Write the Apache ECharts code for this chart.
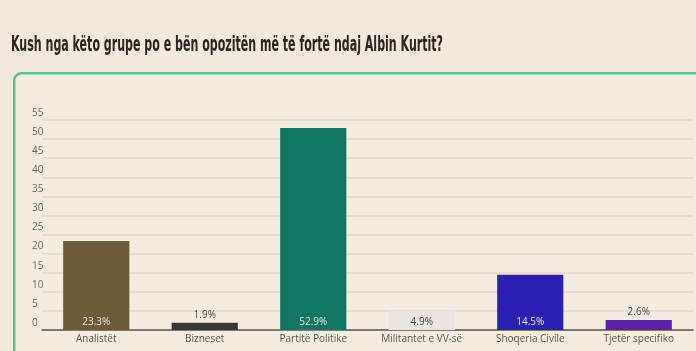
<!DOCTYPE html>
<html>
<head>
    <meta charset="utf-8"/>
    <title>Kush nga këto grupe</title>
    <script src="https://cdn.jsdelivr.net/npm/echarts@6/dist/echarts.min.js"></script>
    <style>
        html, body { margin: 0; padding: 0; background: #f3e8dc; }
    </style>
</head>
<body>
    <div id="chart" style="width: 696px; height: 351px;"></div>
<script type="text/javascript">
    // te dhenat
    var titleText = 'Kush nga këto grupe po e bën opozitën më të fortë ndaj Albin Kurtit?';
    var categories = ['Analistët', 'Bizneset', 'Partitë Politike', 'Militantet e VV-së', 'Shoqeria Civile', 'Tjetër specifiko'];
    var values = [23.3, 1.9, 52.9, 4.9, 14.5, 2.6];
    var barColors = ['#6b5b3b', '#3a3634', '#127762', '#e9e6e2', '#2b20b2', '#5b22a9'];
    var labelInside = [true, false, true, true, true, false];
    var yTicks = [0, 5, 10, 15, 20, 25, 30, 35, 40, 45, 50, 55];

    var myChart = echarts.init(document.getElementById('chart'));

    var barData = values.map(function (v, i) {
        var inside = labelInside[i];
        return {
            value: v,
            itemStyle: { color: barColors[i] },
            label: {
                position: inside ? 'insideBottom' : 'top',
                distance: 3,
                color: inside && i !== 3 ? '#e8e2d6' : '#4a4540'
            }
        };
    });

    var option = {
        backgroundColor: '#f3e8dc',
        animation: false,
        graphic: [{
            type: 'rect',
            left: 13,
            top: 72,
            shape: { width: 720, height: 320, r: 7 },
            style: { fill: '#f5ece1', stroke: '#5cbf93', lineWidth: 2.5 },
            z: -10
        }, {
            // titulli, i ngushtuar si ne origjinal
            type: 'text',
            x: 11,
            y: 35,
            scaleX: 0.585,
            style: {
                text: titleText,
                font: 'bold 21px "DejaVu Sans Condensed", sans-serif',
                fill: '#2b2520'
            }
        }],
        grid: {
            left: 42,
            right: 3,
            top: 120,
            bottom: 21
        },
        xAxis: {
            type: 'category',
            data: categories,
            axisTick: { show: false },
            axisLine: { lineStyle: { color: '#5a5550', width: 1.5 } },
            axisLabel: {
                color: '#5a5550',
                fontSize: 10,
                fontFamily: '"Open Sans", sans-serif',
                margin: 4
            }
        },
        yAxis: {
            type: 'value',
            min: yTicks[0],
            max: yTicks[yTicks.length - 1],
            interval: 5,
            axisLine: { show: false },
            axisTick: { show: false },
            splitLine: { lineStyle: { color: '#e4d9cc', width: 1.5 } },
            axisLabel: {
                color: '#6a6560',
                fontSize: 10,
                fontFamily: '"Open Sans", sans-serif',
                align: 'left',
                verticalAlign: 'bottom',
                margin: 10,
                padding: [0, 0, 2, 0]
            }
        },
        series: [{
            type: 'bar',
            data: barData,
            barCategoryGap: '39%',
            label: {
                show: true,
                fontSize: 10,
                fontFamily: '"Open Sans", sans-serif',
                formatter: function (p) { return p.value + '%'; }
            }
        }]
    };
    myChart.setOption(option);
</script>
</body>
</html>
